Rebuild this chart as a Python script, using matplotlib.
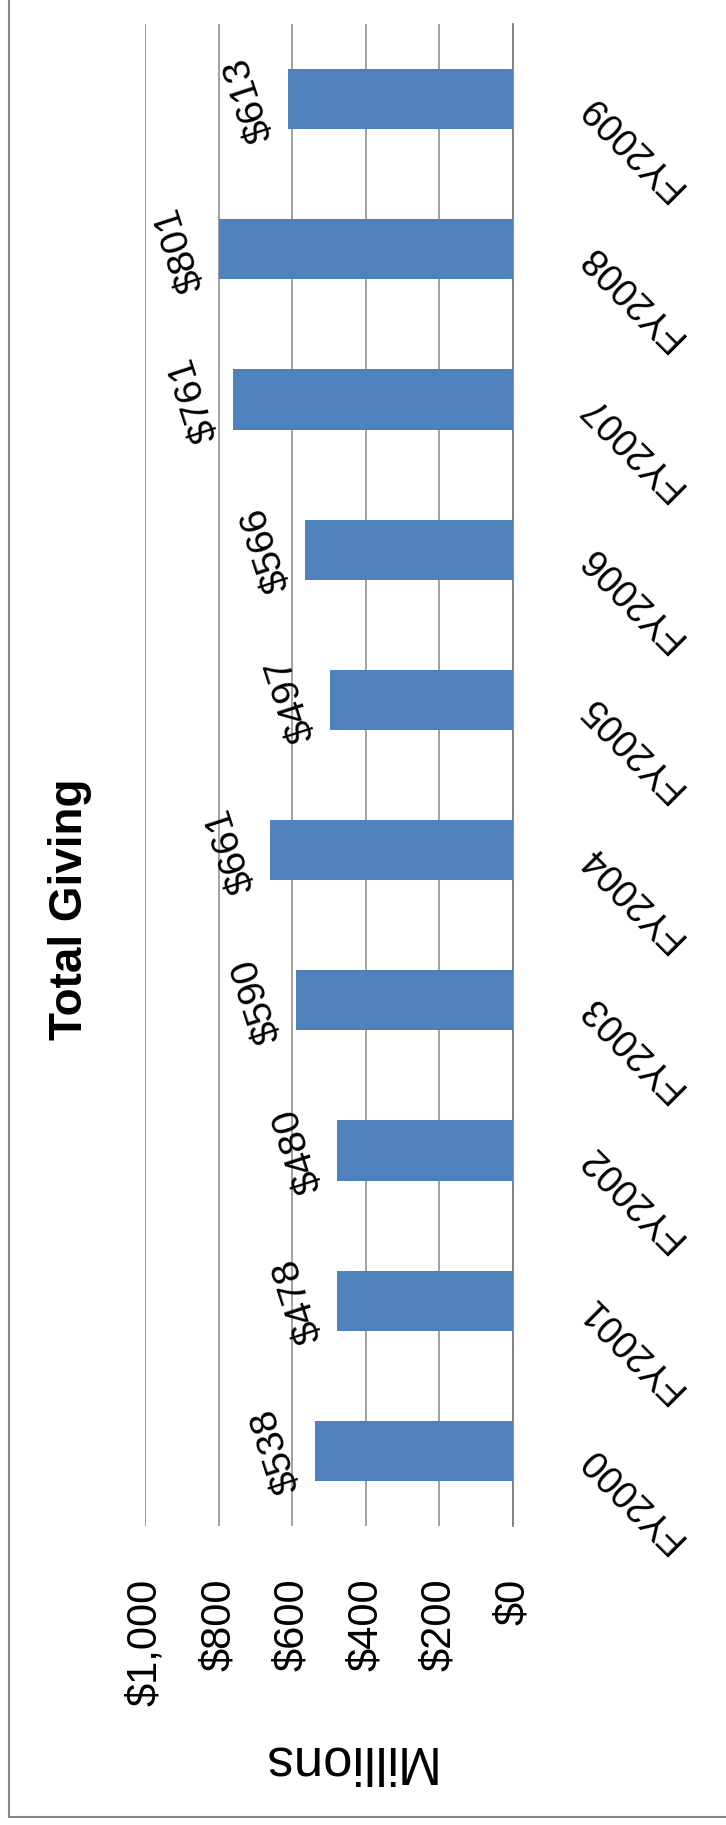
import numpy as np
import matplotlib
matplotlib.use('Agg')
import matplotlib.pyplot as plt
from matplotlib.lines import Line2D

# data (millions of dollars)
years = ['FY2000', 'FY2001', 'FY2002', 'FY2003', 'FY2004',
         'FY2005', 'FY2006', 'FY2007', 'FY2008', 'FY2009']
totals = [538, 478, 480, 590, 661, 497, 566, 761, 801, 613]
value_labels = ['$538', '$478', '$480', '$590', '$661',
                '$497', '$566', '$761', '$801', '$613']
tick_values = [0, 200, 400, 600, 800, 1000]
tick_labels = ['$0', '$200', '$400', '$600', '$800', '$1,000']

plt.rcParams['font.family'] = ['Liberation Sans', 'DejaVu Sans']

W, H = 726, 1825
fig = plt.figure(figsize=(W / 100, H / 100), dpi=100)

# plot area in pixels: x 145..513, y 24..1526 (from top)
ax = fig.add_axes([145.4 / W, 1 - 1526 / H, (513 - 145.4) / W, (1526 - 24) / H])

pos = np.arange(len(years))
ax.barh(pos, totals, height=0.4, color='#4F81BD', zorder=3)

ax.set_xlim(1000, 0)
ax.set_ylim(-0.5, len(years) - 0.5)

ax.set_xticks(tick_values)
ax.set_xticklabels(tick_labels, rotation=90, fontsize=30)
ax.tick_params(axis='x', length=0, pad=38)
ax.set_yticks([])

ax.grid(axis='x', color='#878787', linewidth=1.1, zorder=0)
ax.set_axisbelow(True)
for side in ['top', 'bottom', 'left']:
    ax.spines[side].set_visible(False)
ax.spines['right'].set_color('#7f7f7f')
ax.spines['right'].set_linewidth(1.3)

# category labels on the right side
for i, yr in enumerate(years):
    ax.text(1.196, pos[i], yr, transform=ax.get_yaxis_transform(),
            rotation=135, rotation_mode='anchor', ha='right', va='center',
            fontsize=27)

# value labels beyond the bar ends
for i, (v, lbl) in enumerate(zip(totals, value_labels)):
    ax.annotate(lbl, (v, pos[i]), xytext=(-38, 0), textcoords='offset pixels',
                rotation=108, rotation_mode='anchor', ha='center', va='center',
                fontsize=28)

fig.text(70 / W, 1 - 909 / H, 'Total Giving', rotation=90, fontsize=33,
         fontweight='bold', ha='center', va='center')
fig.text(346 / W, 1 - 1760 / H, 'Millions', rotation=180, fontsize=38,
         ha='center', va='center')

# chart frame (only left and bottom edges show)
fig.add_artist(Line2D([9 / W, 9 / W], [1 - 1817 / H, 1], transform=fig.transFigure,
                      color='#868686', linewidth=1.5))
fig.add_artist(Line2D([9 / W, 1], [1 - 1817 / H, 1 - 1817 / H], transform=fig.transFigure,
                      color='#868686', linewidth=1.5))

fig.savefig('out.png', dpi=100)
